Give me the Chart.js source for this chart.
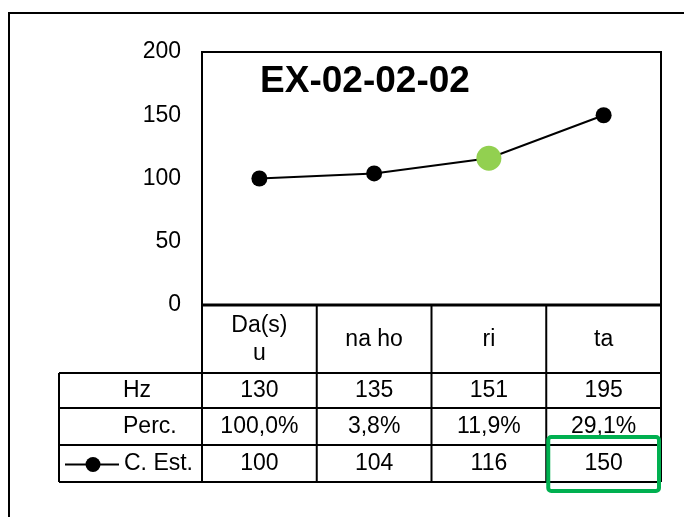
<!DOCTYPE html>
<html>
<head>
<meta charset="utf-8">
<title>EX-02-02-02</title>
<script src="https://cdn.jsdelivr.net/npm/chart.js@4.4.0/dist/chart.umd.min.js"></script>
<style>
  html, body { margin: 0; padding: 0; background: #fff; }
  #wrap { width: 684px; height: 517px; }
</style>
</head>
<body>
<div id="wrap"><canvas id="chart" width="684" height="517"></canvas></div>
<script>
// Chart data
const categories = [['Da(s)', 'u'], 'na ho', 'ri', 'ta'];
const hzValues = [130, 135, 151, 195];
const percValues = [100.0, 3.8, 11.9, 29.1];
const estValues = [100, 104, 116, 150];
const yTicks = [0, 50, 100, 150, 200];

const FONT = '"Liberation Sans", Arial, sans-serif';
const highlightPoint = 2;   // green marker
const highlightCell = 3;    // boxed value in the C. Est. row

function fmtPerc(v) {
    return v.toFixed(1).replace('.', ',') + '%';
}

// white background + outer frame
const frame = {
    id: 'frame',
    beforeDraw(chart) {
        const ctx = chart.ctx;
        ctx.save();
        ctx.fillStyle = '#fff';
        ctx.fillRect(0, 0, chart.width, chart.height);
        ctx.restore();
    },
    afterDraw(chart) {
        const ctx = chart.ctx;
        ctx.save();
        ctx.strokeStyle = '#000';
        ctx.lineWidth = 2;
        ctx.beginPath();
        ctx.moveTo(9, chart.height);
        ctx.lineTo(9, 13);
        ctx.lineTo(chart.width, 13);
        ctx.stroke();
        ctx.restore();
    }
};

// plot border, title and the data table under the plot
const dataTable = {
    id: 'dataTable',
    afterDatasetsDraw(chart) {
        const ctx = chart.ctx;
        const area = chart.chartArea;
        const xs = chart.scales.x;
        const n = categories.length;
        const colW = (area.right - area.left) / n;
        const edges = [];
        for (let i = 0; i <= n; i++) edges.push(area.left + i * colW);
        const rows = [0, 68, 103, 140, 177].map(d => area.bottom + d);
        const labelLeft = 59;

        ctx.save();
        ctx.strokeStyle = '#000';
        ctx.fillStyle = '#000';

        // plot box
        ctx.lineWidth = 2;
        ctx.strokeRect(area.left, area.top, area.right - area.left, area.bottom - area.top);
        ctx.lineWidth = 3;
        ctx.beginPath();
        ctx.moveTo(area.left, area.bottom);
        ctx.lineTo(area.right, area.bottom);
        ctx.stroke();

        // title
        ctx.font = 'bold 37px ' + FONT;
        ctx.textAlign = 'center';
        ctx.textBaseline = 'alphabetic';
        ctx.fillText('EX-02-02-02', 365, 92);

        // grid lines of the table
        ctx.lineWidth = 2;
        ctx.beginPath();
        for (let r = 1; r < rows.length; r++) {
            ctx.moveTo(labelLeft, rows[r]);
            ctx.lineTo(area.right, rows[r]);
        }
        edges.forEach(x => {
            ctx.moveTo(x, rows[0]);
            ctx.lineTo(x, rows[rows.length - 1]);
        });
        ctx.moveTo(labelLeft, rows[1]);
        ctx.lineTo(labelLeft, rows[rows.length - 1]);
        ctx.stroke();

        // header row with category names
        ctx.font = '23px ' + FONT;
        ctx.textAlign = 'center';
        ctx.textBaseline = 'middle';
        const headMid = (rows[0] + rows[1]) / 2 + 1;
        categories.forEach((c, i) => {
            const cx = xs.getPixelForValue(i);
            const lines = Array.isArray(c) ? c : [c];
            const lh = 28;
            lines.forEach((t, k) => {
                ctx.fillText(t, cx, headMid + (k - (lines.length - 1) / 2) * lh);
            });
        });

        // value rows
        const rowData = [
            hzValues.map(String),
            percValues.map(fmtPerc),
            estValues.map(String)
        ];
        rowData.forEach((vals, r) => {
            const cy = (rows[r + 1] + rows[r + 2]) / 2;
            vals.forEach((v, i) => {
                ctx.fillText(v, xs.getPixelForValue(i), cy);
            });
        });

        // row labels
        ctx.textAlign = 'left';
        const labelX = 123;
        ctx.fillText('Hz', labelX, (rows[1] + rows[2]) / 2);
        ctx.fillText('Perc.', labelX, (rows[2] + rows[3]) / 2);
        const estY = (rows[3] + rows[4]) / 2;
        ctx.fillText('C. Est.', labelX + 1, estY);

        // legend key
        ctx.lineWidth = 2;
        ctx.beginPath();
        ctx.moveTo(65, estY + 1);
        ctx.lineTo(119, estY + 1);
        ctx.stroke();
        ctx.beginPath();
        ctx.arc(93, estY + 1, 7.5, 0, Math.PI * 2);
        ctx.fill();

        // green highlight box
        const hx0 = edges[highlightCell] + 2;
        const hx1 = edges[highlightCell + 1] - 2;
        const hy0 = rows[3] - 8;
        const hy1 = rows[4] + 9;
        ctx.strokeStyle = '#00b050';
        ctx.lineWidth = 4;
        ctx.beginPath();
        ctx.roundRect(hx0, hy0, hx1 - hx0, hy1 - hy0, 3);
        ctx.stroke();

        ctx.restore();
    }
};

const pointColors = estValues.map((v, i) => i === highlightPoint ? '#92d050' : '#000');
const pointSizes = estValues.map((v, i) => i === highlightPoint ? 12.5 : 8);

new Chart(document.getElementById('chart'), {
    type: 'line',
    data: {
        labels: categories,
        datasets: [{
            label: 'C. Est.',
            data: estValues,
            borderColor: '#000',
            borderWidth: 2,
            tension: 0,
            pointRadius: pointSizes,
            pointBackgroundColor: pointColors,
            pointBorderColor: pointColors,
            pointBorderWidth: 0
        }]
    },
    options: {
        responsive: false,
        animation: false,
        devicePixelRatio: 1,
        layout: {
            padding: { left: 0, top: 52, right: 23, bottom: 212 }
        },
        scales: {
            x: {
                display: false,
                offset: true
            },
            y: {
                min: yTicks[0],
                max: yTicks[yTicks.length - 1],
                grid: { display: false, drawTicks: false },
                border: { display: false },
                ticks: {
                    stepSize: yTicks[1] - yTicks[0],
                    padding: 21,
                    color: '#000',
                    font: { family: FONT, size: 23 }
                },
                afterFit(scale) {
                    scale.width = 202;
                }
            }
        },
        plugins: {
            legend: { display: false },
            tooltip: { enabled: false },
            title: { display: false }
        }
    },
    plugins: [frame, dataTable]
});
</script>
</body>
</html>
